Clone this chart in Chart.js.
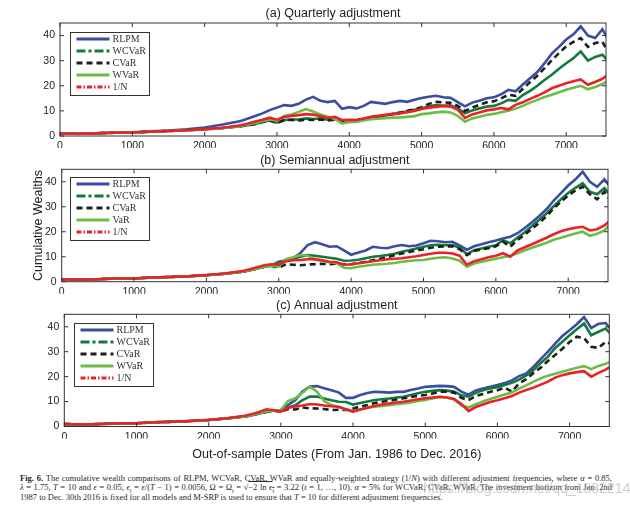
<!DOCTYPE html>
<html>
<head>
<meta charset="utf-8">
<title>Cumulative wealth comparisons</title>
<script src="https://cdn.jsdelivr.net/npm/chart.js@4.4.0/dist/chart.umd.min.js"></script>
<style>
	body { margin: 0; background: #fff; width: 630px; height: 508px; position: relative; overflow: hidden; }
	canvas { position: absolute; left: 0; }
	#caption { position: absolute; left: 20px; top: 474px; width: 592px; font: 8.5px/9.4px "Liberation Serif", "Times New Roman", serif; color: #2a2a2a; }
	#caption div { white-space: nowrap; text-align: justify; text-align-last: justify; }
	#caption div.last { text-align-last: left; }
	#caption sub { font-size: 6px; line-height: 0; }
	#mark { position: absolute; right: -8px; top: 480px; font: 14px "Liberation Sans", Arial, sans-serif; color: rgba(170,170,170,0.6); white-space: nowrap; }
</style>
</head>
<body>
	<canvas id="chartA" width="630" height="150" style="top:0"></canvas>
	<canvas id="chartB" width="630" height="145" style="top:150px"></canvas>
	<canvas id="chartC" width="630" height="175" style="top:295px"></canvas>
	<div id="caption">
		<div><b>Fig. 6.</b> The cumulative wealth comparisons of RLPM, WCVaR, CVaR, WVaR and equally-weighted strategy (1/<i>N</i>) with different adjustment frequencies, where <i>α</i> = 0.85,</div>
		<div><i>λ</i> = 1.75, <i>T</i> = 10 and <i>ϵ</i> = 0.05, <i>ϵ<sub>t</sub></i> = <i>ϵ</i>/(<i>T</i> − 1) = 0.0056, Ω = Ω<sub><i>t</i></sub> = √<span style="text-decoration:overline">−2 ln <i>ϵ<sub>t</sub></i></span> = 3.22 (<i>t</i> = 1, …, 10). <i>α</i> = 5% for WCVaR, CVaR, WVaR. The investment horizon from Jan. 2nd</div>
		<div class="last">1987 to Dec. 30th 2016 is fixed for all models and M-SRP is used to ensure that <i>T</i> = 10 for different adjustment frequencies.</div>
	</div>
	<div id="mark">https://blog.csdn.net/qq_18822147</div>

	<script type="text/javascript">

		// out-of-sample day index
		var days = [0,250,500,750,1000,1250,1500,1750,2000,2250,2500,
			2600,2700,2800,2900,3000,3100,3200,3300,3400,3500,
			3600,3700,3800,3900,4000,4100,4200,4300,4400,4500,
			4600,4700,4800,4900,5000,5100,5200,5300,5400,5500,
			5600,5700,5800,5900,6000,6100,6200,6300,6400,6500,
			6600,6700,6800,6900,7000,7100,7200,7300,7400,7500,
			7560];

		var xTicks = [0, 1000, 2000, 3000, 4000, 5000, 6000, 7000];
		var yTicks = [0, 10, 20, 30, 40];

		var legendA = ['RLPM', 'WCVaR', 'CVaR', 'WVaR', '1/N'];
		var legendB = ['RLPM', 'WCVaR', 'CVaR', 'VaR', '1/N'];
		var legendC = ['RLPM', 'WCVaR', 'CVaR', 'WVaR', '1/N'];

		// (a) quarterly
		var quarterRLPM = [1.0,0.9,1.1,1.4,1.5,1.9,2.2,2.7,3.4,4.6,6.0,
			7.0,8.0,9.0,10.3,11.3,12.3,12.0,12.8,14.5,15.6,
			14.0,13.5,14.0,10.8,11.5,11.0,12.0,13.6,13.2,12.8,
			13.5,14.0,13.6,14.4,15.1,15.6,16.0,15.4,15.2,13.5,
			11.8,13.3,14.0,15.0,15.4,16.6,18.4,17.8,20.5,23.0,
			25.5,29.0,32.8,35.5,38.4,40.5,43.7,40.0,39.0,42.5,
			39.5];
		var quarterWCVaR = [1.0,0.9,1.1,1.3,1.4,1.7,2.0,2.3,2.7,3.2,3.9,
			4.3,4.8,5.6,6.2,5.3,6.4,6.6,6.6,7.0,6.8,
			7.0,6.5,6.8,6.0,6.3,6.4,6.8,7.4,7.7,8.2,
			8.7,9.2,9.8,10.4,11.0,11.8,12.3,12.0,12.2,11.0,
			9.0,10.2,11.0,11.7,12.0,13.0,14.4,14.0,16.3,18.0,
			20.0,22.3,24.4,26.8,29.0,31.0,33.7,30.0,31.5,32.4,
			30.4];
		var quarterCVaR = [1.0,0.9,1.1,1.3,1.4,1.7,2.0,2.3,2.7,3.2,3.9,
			4.3,4.8,5.6,6.2,5.2,6.3,6.4,6.2,6.5,6.4,
			6.6,6.2,6.5,6.0,6.3,6.4,6.8,7.5,7.8,8.3,
			8.8,9.3,10.0,10.6,11.5,12.8,13.6,13.4,13.2,12.0,
			10.0,11.3,12.4,13.4,13.8,15.0,16.4,16.0,18.8,21.5,
			24.0,27.0,30.2,33.0,35.7,37.5,39.0,35.5,37.0,37.5,
			34.5];
		var quarterWVaR = [1.0,0.9,1.1,1.3,1.4,1.7,2.0,2.3,2.6,3.2,4.0,
			4.6,5.2,5.9,6.6,6.0,8.0,8.6,9.6,10.7,9.8,
			8.6,7.7,6.8,5.0,5.5,5.7,6.2,6.7,6.9,7.1,
			7.3,7.4,7.6,7.9,8.7,9.0,9.4,9.7,9.4,8.0,
			5.7,7.0,7.7,8.4,8.8,9.5,10.1,10.9,12.0,13.3,
			14.4,15.5,16.4,17.4,18.4,19.2,20.0,18.6,19.5,20.7,
			21.7];
		var quarterEqual = [1.0,0.9,1.1,1.3,1.4,1.7,2.0,2.3,2.7,3.3,4.3,
			5.0,5.8,6.5,7.3,6.5,7.6,8.0,8.3,8.7,8.5,
			8.0,7.2,7.6,6.4,6.5,6.4,7.0,7.7,8.0,8.4,
			8.7,9.0,9.5,10.0,10.8,11.3,11.6,12.0,11.7,10.5,
			7.2,8.6,9.4,10.2,10.6,11.2,10.6,12.4,13.4,14.8,
			16.0,17.4,19.0,20.0,21.0,21.8,22.5,20.4,21.5,22.8,
			24.0];

		// (b) semiannual
		var semiRLPM = [1.0,0.8,1.0,1.3,1.3,1.7,1.9,2.2,2.6,3.2,4.0,
			4.6,5.3,6.0,6.5,8.0,8.6,9.5,11.5,14.7,15.8,
			15.0,14.0,14.2,12.5,10.8,11.7,12.5,14.0,13.6,13.4,
			14.2,14.7,14.2,14.5,15.4,16.4,16.2,15.8,16.0,14.5,
			12.8,14.2,15.0,15.8,16.5,17.3,18.0,19.4,21.5,23.8,
			26.3,29.0,32.5,35.5,38.5,41.0,44.0,40.0,38.0,41.0,
			38.7];
		var semiWCVaR = [1.0,0.8,1.0,1.3,1.3,1.7,1.9,2.2,2.6,3.2,4.0,
			4.6,5.3,6.0,6.5,7.8,8.4,9.2,10.0,10.7,10.4,
			10.0,9.6,9.2,8.4,8.5,8.8,9.4,10.0,10.3,10.7,
			11.2,12.0,12.6,13.3,14.0,14.6,14.8,14.6,14.7,13.6,
			11.0,12.6,13.3,14.0,14.6,16.6,15.4,17.7,19.8,22.3,
			24.8,27.3,30.2,33.0,35.5,37.6,39.4,36.0,35.0,37.5,
			35.4];
		var semiCVaR = [1.0,0.8,1.0,1.3,1.3,1.7,1.9,2.2,2.6,3.2,4.0,
			4.6,5.3,6.0,6.3,5.6,7.0,6.8,6.6,6.9,7.0,
			7.2,7.0,7.2,7.0,7.0,7.4,8.0,8.6,9.2,9.8,
			10.6,11.3,11.9,12.5,13.0,13.6,14.0,14.1,14.2,13.0,
			10.6,12.3,12.9,13.4,14.2,16.0,14.0,16.7,18.8,21.2,
			23.6,26.2,29.4,32.0,34.5,36.5,38.0,35.0,33.0,36.0,
			33.4];
		var semiVaR = [1.0,0.8,1.0,1.3,1.3,1.7,1.9,2.2,2.6,3.2,4.0,
			4.6,5.3,6.0,6.4,6.0,9.0,9.8,10.7,10.4,8.8,
			8.3,7.8,7.4,5.6,5.4,6.0,6.4,6.8,7.0,7.2,
			7.5,8.0,8.3,8.6,8.7,9.2,9.6,9.8,9.3,8.4,
			6.0,7.3,8.0,8.6,9.2,9.8,10.4,11.4,12.6,13.6,
			14.6,15.6,16.8,17.6,18.5,19.3,20.0,18.4,19.2,20.5,
			22.3];
		var semiEqual = [1.0,0.8,1.0,1.3,1.3,1.7,1.9,2.2,2.7,3.3,4.3,
			5.0,5.8,6.6,7.0,6.8,8.2,8.6,8.7,9.0,9.1,
			8.6,8.0,7.8,6.8,7.0,7.4,7.8,8.2,8.6,9.0,
			9.2,9.4,9.8,10.2,10.7,11.2,11.6,11.6,11.3,10.4,
			6.8,8.2,9.0,9.8,10.4,11.4,10.0,12.5,13.8,15.0,
			16.3,17.6,19.0,20.2,21.0,21.6,22.0,20.5,21.0,22.5,
			24.0];

		// (c) annual
		var annualRLPM = [1.0,0.8,1.0,1.3,1.3,1.7,1.9,2.2,2.6,3.2,4.0,
			4.5,5.2,5.8,6.4,6.6,8.6,10.6,14.0,16.0,16.2,
			15.3,14.5,13.7,11.5,11.5,12.6,13.4,13.9,13.8,13.6,
			13.9,13.9,14.6,15.2,15.9,16.1,16.3,16.2,15.9,14.0,
			12.8,14.5,15.2,15.9,16.6,17.4,18.5,20.2,21.3,24.0,
			27.0,30.0,33.2,36.3,38.6,41.0,43.9,39.5,41.2,41.5,
			39.3];
		var annualWCVaR = [1.0,0.8,1.0,1.3,1.3,1.7,1.9,2.2,2.6,3.2,4.0,
			4.6,5.3,6.0,6.3,6.6,7.5,8.5,10.6,12.0,12.0,
			11.2,10.5,9.9,9.8,8.8,9.4,10.0,10.6,10.9,11.2,
			11.6,11.9,12.6,13.3,13.9,14.3,14.6,14.4,14.0,12.5,
			12.0,13.5,14.5,15.3,15.8,16.6,17.5,18.8,20.5,22.7,
			25.5,28.0,31.5,34.0,36.6,39.0,41.3,36.6,38.0,39.3,
			37.3];
		var annualCVaR = [1.0,0.8,1.0,1.3,1.3,1.7,1.9,2.2,2.6,3.2,4.0,
			4.5,5.2,5.9,6.3,6.0,7.0,6.8,7.6,7.3,7.2,
			7.0,6.6,6.7,6.6,7.2,8.0,8.6,9.4,9.9,10.3,
			10.8,11.3,11.8,12.3,12.6,13.2,13.9,14.0,13.6,11.5,
			10.6,12.2,13.0,13.9,14.5,15.6,14.0,17.3,19.0,21.5,
			23.6,26.3,28.7,31.2,33.9,36.0,35.5,32.0,31.5,34.0,
			33.3];
		var annualWVaR = [1.0,0.8,1.0,1.3,1.3,1.7,1.9,2.2,2.6,3.2,4.0,
			4.6,5.3,6.0,6.3,6.6,10.2,11.3,13.5,16.0,14.0,
			10.2,8.6,7.8,6.8,6.0,6.8,7.5,7.9,8.2,8.5,
			8.9,9.2,9.6,10.2,10.6,11.2,11.8,11.6,10.8,8.5,
			7.6,8.9,10.0,11.0,11.9,12.8,13.6,15.2,16.5,18.0,
			19.3,20.4,21.2,22.0,22.8,23.6,24.2,23.0,24.3,25.2,
			25.9];
		var annualEqual = [1.0,0.8,1.0,1.3,1.3,1.7,1.9,2.2,2.7,3.3,4.3,
			5.0,5.8,6.9,6.5,6.0,7.5,8.0,8.4,9.0,8.8,
			8.4,8.1,7.9,6.9,6.0,6.8,7.5,8.3,8.8,9.2,
			9.6,9.9,10.4,10.9,11.3,11.6,11.9,11.6,11.0,9.0,
			6.2,7.8,8.8,9.8,10.5,11.3,12.2,13.6,14.6,15.6,
			16.8,18.0,19.6,20.6,21.3,21.8,22.2,20.0,21.5,22.8,
			23.9];

		var colors = ['#3a4da2', '#127a3c', '#1e1e1e', '#6cbd45', '#ea2228'];
		// dense daily lines read as solid in the plot; legend keeps the dash style
		var plotDashes = [[], [], [6, 4], [], []];
		var legendDashes = [[], [9, 3, 3, 3], [6, 4], [], [5, 2, 1.5, 2]];

		var sansFont = '"Liberation Sans", Arial, sans-serif';

		// frame, inward ticks, title, axis titles and in-plot legend
		var panelPlugin = {
			id: 'panel',
			afterDatasetsDraw: function(chart) {
				var p = chart.options.plugins.panel;
				var a = chart.chartArea;
				var ctx = chart.ctx;
				var sx = chart.scales.x, sy = chart.scales.y;
				ctx.save();
				ctx.strokeStyle = '#333';
				ctx.lineWidth = 1;
				ctx.strokeRect(a.left, a.top, a.right - a.left, a.bottom - a.top);
				ctx.beginPath();
				xTicks.forEach(function(v) {
					var x = sx.getPixelForValue(v);
					ctx.moveTo(x, a.bottom); ctx.lineTo(x, a.bottom - 4);
					ctx.moveTo(x, a.top); ctx.lineTo(x, a.top + 4);
				});
				yTicks.forEach(function(v) {
					var y = sy.getPixelForValue(v);
					ctx.moveTo(a.left, y); ctx.lineTo(a.left + 4, y);
					ctx.moveTo(a.right, y); ctx.lineTo(a.right - 4, y);
				});
				ctx.stroke();

				ctx.fillStyle = '#222';
				ctx.font = '12.5px ' + sansFont;
				ctx.textAlign = 'center';
				ctx.textBaseline = 'middle';
				ctx.fillText(p.title, (a.left + a.right) / 2, a.top - 9);
				if (p.xTitle) {
					ctx.fillText(p.xTitle, (a.left + a.right) / 2, a.bottom + 28.5);
				}
				if (p.yTitle) {
					ctx.save();
					ctx.translate(38.5, (a.top + a.bottom) / 2);
					ctx.rotate(-Math.PI / 2);
					ctx.fillText(p.yTitle, 0, 0);
					ctx.restore();
				}

				var bx = Math.round(a.left + p.legendX) + 0.5;
				var by = Math.round(a.top + p.legendY) + 0.5;
				ctx.fillStyle = '#fff';
				ctx.fillRect(bx, by, 79, 63);
				ctx.strokeStyle = '#333';
				ctx.lineWidth = 1;
				ctx.strokeRect(bx, by, 79, 63);
				ctx.font = '10px "Liberation Serif", "Times New Roman", serif';
				ctx.textAlign = 'left';
				chart.data.datasets.forEach(function(ds, i) {
					var y = by + 6.5 + i * 12;
					ctx.strokeStyle = ds.borderColor;
					ctx.lineWidth = 3.2;
					ctx.setLineDash(legendDashes[i]);
					ctx.beginPath();
					ctx.moveTo(bx + 6, y);
					ctx.lineTo(bx + 39, y);
					ctx.stroke();
					ctx.setLineDash([]);
					ctx.fillStyle = '#333';
					ctx.fillText(p.legend[i], bx + 42, y);
				});
				ctx.restore();
			}
		};

		function makeChart(id, box, panel, series) {
			var datasets = series.map(function(vals, i) {
				return {
					data: days.map(function(d, k) { return {x: d, y: vals[k]}; }),
					borderColor: colors[i],
					backgroundColor: colors[i],
					borderWidth: 2.6,
					borderDash: plotDashes[i],
					pointRadius: 0,
					fill: false,
					order: series.length - i
				};
			});
			var tickFont = {family: sansFont, size: 10.5};
			return new Chart(document.getElementById(id).getContext('2d'), {
				type: 'line',
				data: {datasets: datasets},
				options: {
					responsive: false,
					animation: false,
					layout: {padding: {left: 0, right: 630 - box.right, top: box.top, bottom: box.height - box.bottom - 12}},
					plugins: {
						legend: {display: false},
						tooltip: {enabled: false},
						panel: panel
					},
					scales: {
						x: {
							type: 'linear', min: 0, max: 7550,
							grid: {display: false, drawTicks: false},
							border: {display: false},
							ticks: {padding: 4, color: '#222', font: tickFont, maxRotation: 0,
								callback: function(v) { return String(v); }},
							afterBuildTicks: function(s) { s.ticks = xTicks.map(function(v) { return {value: v}; }); },
							afterFit: function(s) { s.height = 12; }
						},
						y: {
							min: 0, max: 45,
							grid: {display: false, drawTicks: false},
							border: {display: false},
							ticks: {padding: 5, color: '#222', font: tickFont,
								callback: function(v) { return String(v); }},
							afterBuildTicks: function(s) { s.ticks = yTicks.map(function(v) { return {value: v}; }); },
							afterFit: function(s) { s.width = box.left; }
						}
					}
				},
				plugins: [panelPlugin]
			});
		}

		makeChart('chartA', {left: 60, right: 606, top: 23, bottom: 136, height: 150},
			{title: '(a) Quarterly adjustment', legend: legendA, legendX: 10, legendY: 8.5},
			[quarterRLPM, quarterWCVaR, quarterCVaR, quarterWVaR, quarterEqual]);

		makeChart('chartB', {left: 61.7, right: 608, top: 19.3, bottom: 131.7, height: 145},
			{title: '(b) Semiannual adjustment', legend: legendB, legendX: 8.6, legendY: 7.4, yTitle: 'Cumulative Wealths'},
			[semiRLPM, semiWCVaR, semiCVaR, semiVaR, semiEqual]);

		makeChart('chartC', {left: 64.3, right: 609.3, top: 19.3, bottom: 131.5, height: 175},
			{title: '(c) Annual adjustment', legend: legendC, legendX: 9.7, legendY: 9, xTitle: 'Out-of-sample Dates (From Jan. 1986 to Dec. 2016)'},
			[annualRLPM, annualWCVaR, annualCVaR, annualWVaR, annualEqual]);

	</script>
</body>
</html>
